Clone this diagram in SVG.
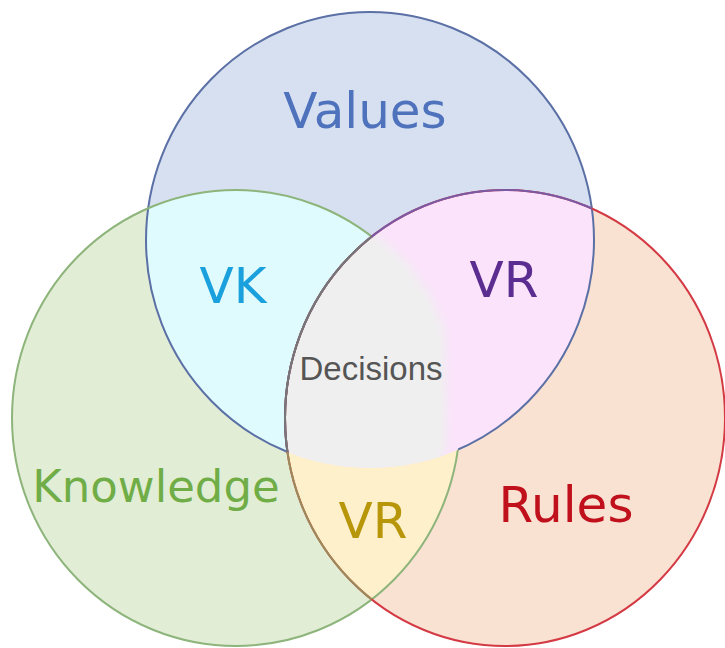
<svg xmlns="http://www.w3.org/2000/svg" width="725" height="648" viewBox="0 0 725 648">
  <style>
    .lbl { font-family: "DejaVu Sans", Verdana, sans-serif; text-anchor: middle; }
    .dec { font-family: "Liberation Sans", Arial, sans-serif; text-anchor: middle; }
    .edge { fill: none; stroke-width: 2; }
  </style>
  <defs>
    <clipPath id="cV"><ellipse cx="370" cy="240" rx="224" ry="228"/></clipPath>
    <clipPath id="cK"><ellipse cx="236" cy="418" rx="224" ry="228"/></clipPath>
    <clipPath id="cR"><ellipse cx="505" cy="418" rx="220" ry="228"/></clipPath>
    <mask id="mNotKR" maskUnits="userSpaceOnUse" x="0" y="0" width="725" height="648">
      <rect x="0" y="0" width="725" height="648" fill="#fff"/>
      <g clip-path="url(#cK)"><ellipse cx="505" cy="418" rx="220" ry="228" fill="#000"/></g>
    </mask>
    <mask id="mNotVR" maskUnits="userSpaceOnUse" x="0" y="0" width="725" height="648">
      <rect x="0" y="0" width="725" height="648" fill="#fff"/>
      <g clip-path="url(#cV)"><ellipse cx="505" cy="418" rx="220" ry="228" fill="#000"/></g>
    </mask>
    <filter id="soft" x="-20%" y="-20%" width="140%" height="140%">
      <feGaussianBlur stdDeviation="5"/>
    </filter>
  </defs>
  <rect x="0" y="0" width="725" height="648" fill="#ffffff"/>

  <!-- fills -->
  <g id="fills">
    <ellipse cx="370" cy="240" rx="224" ry="228" fill="#d6e0f0"/>
    <ellipse cx="236" cy="418" rx="224" ry="228" fill="#e2edd6"/>
    <ellipse cx="505" cy="418" rx="220" ry="228" fill="#fae2d3"/>
    <ellipse cx="236" cy="418" rx="224" ry="228" fill="#e0fbfd" clip-path="url(#cV)"/>
    <ellipse cx="505" cy="418" rx="220" ry="228" fill="#fdf0ca" clip-path="url(#cK)"/>
    <ellipse cx="505" cy="418" rx="220" ry="228" fill="#fbe3fb" clip-path="url(#cV)"/>
    <g clip-path="url(#cV)">
      <g clip-path="url(#cR)">
        <polygon points="360,222 382,240 407,262 430,295 445,330 447,440 440,472 270,478 270,222" fill="#efefef" filter="url(#soft)"/>
      </g>
    </g>
  </g>

  <!-- outlines -->
  <g id="values">
    <ellipse class="edge" cx="370" cy="240" rx="224" ry="228" stroke="#5b70a5" mask="url(#mNotKR)"/>
  </g>
  <g id="knowledge">
    <ellipse class="edge" cx="236" cy="418" rx="224" ry="228" stroke="#8db47a" mask="url(#mNotVR)"/>
  </g>
  <g id="rules">
    <ellipse class="edge" cx="505" cy="418" rx="220" ry="228" stroke="#d43a44"/>
    <ellipse class="edge" cx="505" cy="418" rx="220" ry="228" stroke="#9a8c5a" clip-path="url(#cK)"/>
    <ellipse class="edge" cx="505" cy="418" rx="220" ry="228" stroke="#7a5aa5" clip-path="url(#cV)"/>
    <g clip-path="url(#cV)">
      <ellipse class="edge" cx="505" cy="418" rx="220" ry="228" stroke="#767676" clip-path="url(#cK)"/>
    </g>
  </g>

  <!-- labels -->
  <g id="label-values"><text class="lbl" x="365" y="128" font-size="50" fill="#4f72bd">Values</text></g>
  <g id="label-vk"><text class="lbl" x="233" y="303" font-size="50" fill="#1aa0dc">VK</text></g>
  <g id="label-vr-top"><text class="lbl" x="504" y="297" font-size="50" fill="#5c2d91">VR</text></g>
  <g id="label-decisions"><text class="dec" x="371" y="380" font-size="33" fill="#555555">Decisions</text></g>
  <g id="label-knowledge"><text class="lbl" x="156" y="502" font-size="45" fill="#70ad47">Knowledge</text></g>
  <g id="label-rules"><text class="lbl" x="566" y="522" font-size="50" fill="#c0101c">Rules</text></g>
  <g id="label-vr-bottom"><text class="lbl" x="373" y="538" font-size="50" fill="#b8960a">VR</text></g>

  <g id="connectors"></g>
</svg>
